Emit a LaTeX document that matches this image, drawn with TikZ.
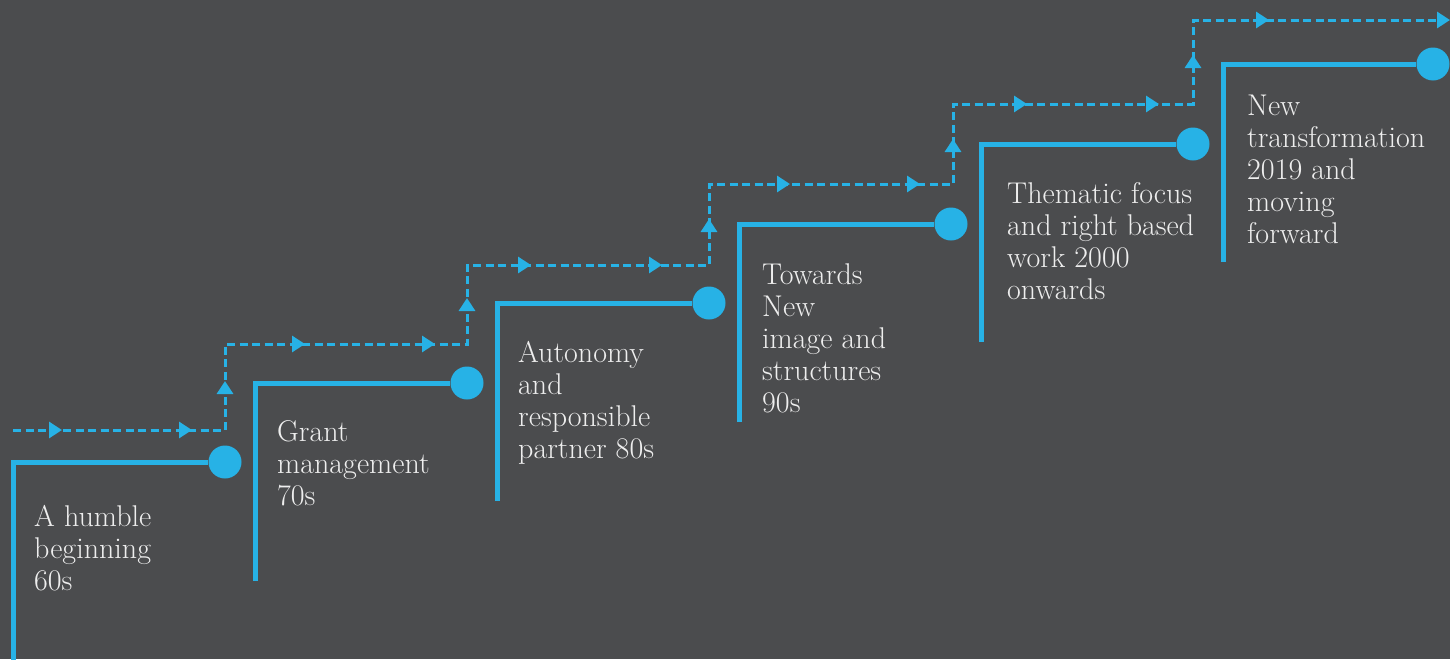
\documentclass[tikz,border=0pt]{standalone}
\usetikzlibrary{arrows.meta}
\usetikzlibrary{decorations.markings}
\definecolor{slate}{RGB}{75,76,78}
\definecolor{skyblue}{RGB}{39,178,230}
\definecolor{paper}{RGB}{238,238,238}

\begin{document}
\begin{tikzpicture}[x=1pt, y=-1pt,
    stepline/.style={skyblue, line width=5pt},
    dot/.style={circle, fill=skyblue, minimum size=33pt, inner sep=0pt},
    era/.style={anchor=base west, align=left, inner sep=0pt, text=paper,
      font=\fontsize{30}{32}\selectfont},
    tri/.tip={Triangle[length=13pt, width=16pt]},
    flow/.style={skyblue, line width=3pt, dash pattern=on 8pt off 4.5pt}]
      \fill[slate] (0,0) rectangle (1450,659);
      \useasboundingbox (0,0) rectangle (1450,659);

      % the dashed path above the steps
      \coordinate (p0) at (13,430);
      \coordinate (p1) at (225,430);
      \coordinate (p2) at (225,344);
      \coordinate (p3) at (467,344);
      \coordinate (p4) at (467,265);
      \coordinate (p5) at (709,265);
      \coordinate (p6) at (709,184);
      \coordinate (p7) at (953,184);
      \coordinate (p8) at (953,104);
      \coordinate (p9) at (1193,104);
      \coordinate (p10) at (1193,20);
      \coordinate (p11) at (1450,20);
      \draw[flow, -{tri}, postaction={decorate, decoration={markings,
          mark=at position 49pt with {\arrow{tri}},
          mark=at position 179pt with {\arrow{tri}},
          mark=at position 261pt with {\arrow{tri}},
          mark=at position 378pt with {\arrow{tri}},
          mark=at position 508pt with {\arrow{tri}},
          mark=at position 586pt with {\arrow{tri}},
          mark=at position 683pt with {\arrow{tri}},
          mark=at position 814pt with {\arrow{tri}},
          mark=at position 907pt with {\arrow{tri}},
          mark=at position 1023pt with {\arrow{tri}},
          mark=at position 1153pt with {\arrow{tri}},
          mark=at position 1231pt with {\arrow{tri}},
          mark=at position 1340pt with {\arrow{tri}},
          mark=at position 1472pt with {\arrow{tri}},
          mark=at position 1555pt with {\arrow{tri}},
          mark=at position 1666pt with {\arrow{tri}}}}]
        (p0) -- (p1) -- (p2) -- (p3) -- (p4) -- (p5) -- (p6)
        -- (p7) -- (p8) -- (p9) -- (p10) -- (p11);

      % the steps
      \coordinate (foot1) at (13,665);
      \coordinate (foot2) at (255,581);
      \coordinate (foot3) at (497,501);
      \coordinate (foot4) at (739,422);
      \coordinate (foot5) at (981,342);
      \coordinate (foot6) at (1223,262);
      \node[dot] (dot1) at (225,462) {};
      \node[dot] (dot2) at (467,383) {};
      \node[dot] (dot3) at (709,303) {};
      \node[dot] (dot4) at (951,224) {};
      \node[dot] (dot5) at (1193,144) {};
      \node[dot] (dot6) at (1433,64) {};
      \draw[stepline] (foot1) |- (dot1);
      \draw[stepline] (foot2) |- (dot2);
      \draw[stepline] (foot3) |- (dot3);
      \draw[stepline] (foot4) |- (dot4);
      \draw[stepline] (foot5) |- (dot5);
      \draw[stepline] (foot6) |- (dot6);

      % base anchor sits on the last line
      \node[era] (era60) at (34,590) {A humble\\beginning\\60s};
      \node[era] (era70) at (277,505) {Grant\\management\\70s};
      \node[era] (era80) at (518,458) {Autonomy\\and\\responsible\\partner 80s};
      \node[era] (era90) at (762,412) {Towards\\New\\image and\\structures\\90s};
      \node[era] (era00) at (1007,299) {Thematic focus\\and right based\\work 2000\\onwards};
      \node[era] (era19) at (1247,243) {New\\transformation\\2019 and\\moving\\forward};
    \end{tikzpicture}
\end{document}
